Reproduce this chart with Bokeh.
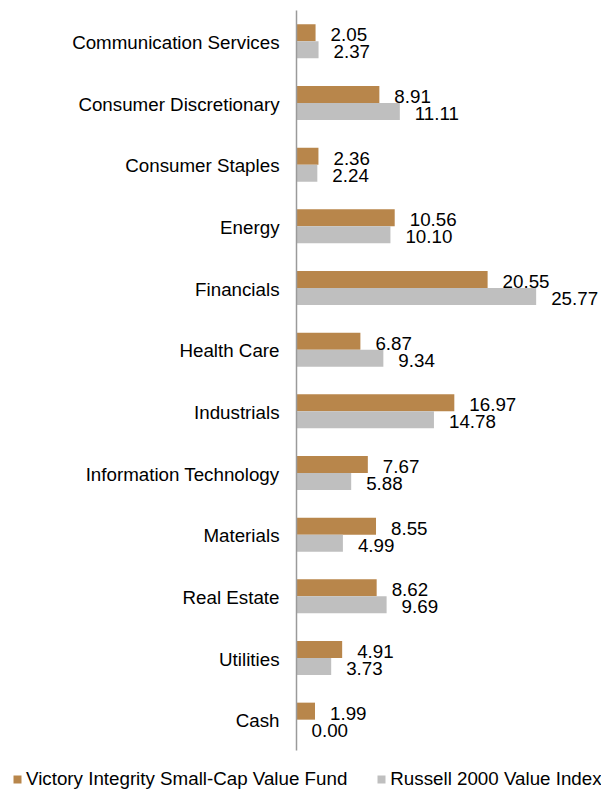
from bokeh.plotting import figure
from bokeh.models import ColumnDataSource, Range1d, Legend, LegendItem
from bokeh.transform import dodge
from bokeh.core.properties import value
from bokeh.embed import file_html
from bokeh.resources import INLINE

categories = ["Communication Services", "Consumer Discretionary", "Consumer Staples",
              "Energy", "Financials", "Health Care", "Industrials",
              "Information Technology", "Materials", "Real Estate", "Utilities", "Cash"]
fund = [2.05, 8.91, 2.36, 10.56, 20.55, 6.87, 16.97, 7.67, 8.55, 8.62, 4.91, 1.99]
index = [2.37, 11.11, 2.24, 10.10, 25.77, 9.34, 14.78, 5.88, 4.99, 9.69, 3.73, 0.00]
series_names = ["Victory Integrity Small-Cap Value Fund", "Russell 2000 Value Index"]

FONT = "Liberation Sans"
FS = "18.75px"
BROWN = "#B8864B"
GREY = "#BFBFBF"
AXIS = "#9A9A9A"

W, H = 601, 790
AX_X = 296          # pixel position of the value axis
TOP, BOT = 10, 750  # pixel extent of the category area
PX_PER_UNIT = 9.3

n = len(categories)
pos = [n - 1 - i for i in range(n)]  # first category on top
unit = (BOT - TOP) / n

src = ColumnDataSource(dict(
    pos=pos, cat=categories, zero=[0] * n, fund=fund, index=index,
    fund_lbl=[f"{v:.2f}" for v in fund],
    index_lbl=[f"{v:.2f}" for v in index],
))

p = figure(width=W, height=H, output_backend="svg", toolbar_location=None,
           x_range=Range1d(-AX_X / PX_PER_UNIT, (W - AX_X) / PX_PER_UNIT),
           y_range=Range1d(-0.5 - (H - BOT) / unit, n - 0.5 + TOP / unit),
           x_axis_location=None, y_axis_location=None,
           min_border=0)

BH = 0.276
r1 = p.hbar(y=dodge("pos", BH / 2), right="fund", left=0, height=BH,
            source=src, fill_color=BROWN, line_color=None)
r2 = p.hbar(y=dodge("pos", -BH / 2), right="index", left=0, height=BH,
            source=src, fill_color=GREY, line_color=None)

# value axis line
p.segment(x0=[0], y0=[-0.5], x1=[0], y1=[n - 0.5], line_color=AXIS, line_width=1.5)

# category labels
p.text(x="zero", y="pos", text="cat", source=src, x_offset=-17, y_offset=1,
       text_align="right", text_baseline="middle",
       text_font=value(FONT), text_font_size=FS, text_color="black")

# value labels
p.text(x="fund", y=dodge("pos", BH / 2), text="fund_lbl", source=src,
       x_offset=15, y_offset=2, text_align="left", text_baseline="middle",
       text_font=value(FONT), text_font_size=FS, text_color="black")
p.text(x="index", y=dodge("pos", -BH / 2), text="index_lbl", source=src,
       x_offset=15, y_offset=2, text_align="left", text_baseline="middle",
       text_font=value(FONT), text_font_size=FS, text_color="black")

p.xgrid.grid_line_color = None
p.ygrid.grid_line_color = None
p.outline_line_color = None
p.background_fill_color = "white"
p.border_fill_color = "white"

legend = Legend(items=[LegendItem(label=series_names[0], renderers=[r1]),
                       LegendItem(label=series_names[1], renderers=[r2])],
                orientation="horizontal", location=(12, 0),
                margin=0, padding=0, spacing=29, label_standoff=4,
                glyph_width=10, glyph_height=10, label_height=18,
                label_text_font=FONT, label_text_font_size=FS,
                label_text_color="black", border_line_color=None,
                background_fill_alpha=0)
p.add_layout(legend, "center")

open("out.html", "w").write(file_html(p, INLINE))
